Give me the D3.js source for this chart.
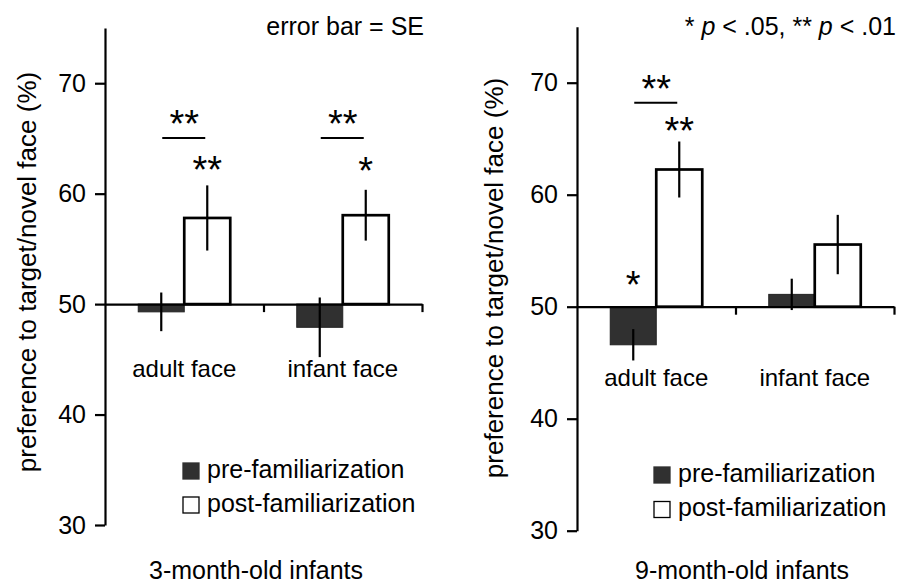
<!DOCTYPE html>
<html>
<head>
<meta charset="utf-8">
<script src="https://cdn.jsdelivr.net/npm/d3@7"></script>
<style>
	body { margin: 0; background: #fff; }
	svg { display: block; font-family: Arial, "Liberation Sans", sans-serif; }
</style>
</head>
<body>
<svg id="chart" width="897" height="585"></svg>
<script>
// values
const categories = ["adult face", "infant face"]
const seriesNames = ["pre-familiarization", "post-familiarization"]
const yTicks = [30, 40, 50, 60, 70]
const panelTitles = ["3-month-old infants", "9-month-old infants"]

const preMean3 = [49.3, 47.9]
const preSe3 = [1.75, 2.7]
const postMean3 = [57.8, 58.05]
const postSe3 = [2.95, 2.3]

const preMean9 = [46.6, 51.1]
const preSe9 = [1.4, 1.4]
const postMean9 = [62.25, 55.55]
const postSe9 = [2.5, 2.65]

// significance marks (y in % units)
const brackets3 = [{ cat: 0, y: 65.05, label: "**" }, { cat: 1, y: 65.05, label: "**" }]
const stars3 = [{ cat: 0, series: 1, y: 62.95, label: "**" }, { cat: 1, series: 1, y: 62.85, label: "*" }]
const brackets9 = [{ cat: 0, y: 68.2, label: "**" }]
const stars9 = [{ cat: 0, series: 1, y: 66.45, label: "**" }, { cat: 0, series: 0, y: 52.7, label: "*" }]

const toRows = (pre, preSe, post, postSe) => categories.map((c, i) => ({
	cat: c,
	bars: [
		{ series: 0, value: pre[i], se: preSe[i] },
		{ series: 1, value: post[i], se: postSe[i] }
	]
}))

const panels = [
	{
		rows: toRows(preMean3, preSe3, postMean3, postSe3),
		brackets: brackets3, stars: stars3, title: panelTitles[0],
		x0: 105, x1: 422, yTop: 28, yBottom: 525,
		labelX: 36, labelY: 272, catY: 377,
		legendX: 183, legendY: 463, legendStep: 34,
		titleX: 256
	},
	{
		rows: toRows(preMean9, preSe9, postMean9, postSe9),
		brackets: brackets9, stars: stars9, title: panelTitles[1],
		x0: 577, x1: 894, yTop: 26.7, yBottom: 530.7,
		labelX: 503, labelY: 278, catY: 386,
		legendX: 654, legendY: 467, legendStep: 34.5,
		titleX: 742
	}
]

const dark = "#303030"
const barWidth = 46
const starSize = 38
const starShift = starSize * 0.57
const svg = d3.select("#chart")

const drawPanel = p => {
	const g = svg.append("g")
	const y = d3.scaleLinear()
		.domain([30, 75])
		.range([p.yBottom, p.yTop])
	const x = d3.scaleBand()
		.domain(categories)
		.range([p.x0, p.x1])
	const xs = d3.scaleBand()
		.domain([0, 1])
		.range([-barWidth, barWidth])
	const barX = (cat, s) => x(cat) + x.bandwidth() / 2 + xs(s)
	const barCx = (cat, s) => barX(cat, s) + xs.bandwidth() / 2

	// bars
	const row = g.selectAll(".row")
		.data(p.rows)
		.enter()
		.append("g")
		.attr("class", "row")
	row.selectAll("rect")
		.data(r => r.bars.map(b => Object.assign({ cat: r.cat }, b)))
		.enter()
		.append("rect")
		.attr("x", b => barX(b.cat, b.series))
		.attr("width", xs.bandwidth())
		.attr("y", b => Math.min(y(b.value), y(50)))
		.attr("height", b => Math.abs(y(b.value) - y(50)))
		.attr("fill", b => b.series === 0 ? dark : "#fff")
		.attr("stroke", b => b.series === 0 ? "#222" : "#000")
		.attr("stroke-width", b => b.series === 0 ? 1 : 2.7)
	row.selectAll("line.err")
		.data(r => r.bars.map(b => Object.assign({ cat: r.cat }, b)))
		.enter()
		.append("line")
		.attr("class", "err")
		.attr("x1", b => barCx(b.cat, b.series))
		.attr("x2", b => barCx(b.cat, b.series))
		.attr("y1", b => y(b.value - b.se))
		.attr("y2", b => y(b.value + b.se))
		.attr("stroke", "#000")
		.attr("stroke-width", 2.2)

	// y axis
	const yAxis = g.append("g")
		.attr("transform", `translate(${p.x0},0)`)
		.call(d3.axisLeft(y)
			.tickValues(yTicks)
			.tickSize(10)
			.tickSizeOuter(0)
			.tickPadding(9))
	yAxis.select(".domain").attr("stroke-width", 2.2)
	yAxis.selectAll(".tick line").attr("stroke-width", 2.2)
	yAxis.selectAll(".tick text")
		.attr("font-size", 25)
		.attr("font-family", "Arial, 'Liberation Sans', sans-serif")
		.attr("fill", "#000")

	// x axis along 50 %
	const xl = d3.scaleLinear()
		.domain([0, categories.length])
		.range([p.x0, p.x1])
	const xAxis = g.append("g")
		.attr("transform", `translate(0,${y(50)})`)
		.call(d3.axisBottom(xl)
			.tickValues(d3.range(1, categories.length + 1))
			.tickFormat("")
			.tickSize(8)
			.tickSizeOuter(0))
	xAxis.select(".domain").attr("stroke-width", 2.2)
	xAxis.selectAll(".tick line").attr("stroke-width", 2.2)

	g.selectAll(".cat")
		.data(categories)
		.enter()
		.append("text")
		.attr("class", "cat")
		.attr("x", c => x(c) + x.bandwidth() / 2)
		.attr("y", p.catY)
		.attr("text-anchor", "middle")
		.attr("font-size", 24)
		.attr("fill", "#000")
		.text(c => c)

	// significance
	const br = g.selectAll(".bracket")
		.data(p.brackets)
		.enter()
		.append("g")
		.attr("class", "bracket")
	br.append("line")
		.attr("x1", d => barCx(categories[d.cat], 0) + 1)
		.attr("x2", d => barCx(categories[d.cat], 1) - 2)
		.attr("y1", d => y(d.y))
		.attr("y2", d => y(d.y))
		.attr("stroke", "#000")
		.attr("stroke-width", 2)
	br.append("text")
		.attr("x", d => x(categories[d.cat]) + x.bandwidth() / 2)
		.attr("y", d => y(d.y) - 23 + starShift)
		.attr("text-anchor", "middle")
		.attr("font-size", starSize)
		.text(d => d.label)
	g.selectAll(".star")
		.data(p.stars)
		.enter()
		.append("text")
		.attr("class", "star")
		.attr("x", d => barCx(categories[d.cat], d.series))
		.attr("y", d => y(d.y) + starShift)
		.attr("text-anchor", "middle")
		.attr("font-size", starSize)
		.text(d => d.label)

	// legend
	const lg = g.selectAll(".legend")
		.data(seriesNames)
		.enter()
		.append("g")
		.attr("class", "legend")
		.attr("transform", (s, i) => `translate(${p.legendX},${p.legendY + i * p.legendStep})`)
	lg.append("rect")
		.attr("width", 16)
		.attr("height", 16)
		.attr("fill", (s, i) => i === 0 ? dark : "#fff")
		.attr("stroke", (s, i) => i === 0 ? dark : "#000")
		.attr("stroke-width", 1.3)
	lg.append("text")
		.attr("x", 24)
		.attr("y", 14.5)
		.attr("font-size", 25)
		.attr("fill", "#000")
		.text(s => s)

	// axis label and panel title
	g.append("text")
		.attr("transform", `translate(${p.labelX},${p.labelY}) rotate(-90)`)
		.attr("text-anchor", "middle")
		.attr("font-size", 26)
		.attr("fill", "#000")
		.text("preference to target/novel face (%)")
	g.append("text")
		.attr("x", p.titleX)
		.attr("y", 579)
		.attr("text-anchor", "middle")
		.attr("font-size", 25)
		.attr("fill", "#000")
		.text(p.title)
}

panels.forEach(drawPanel)

svg.append("text")
	.attr("x", 424)
	.attr("y", 35)
	.attr("text-anchor", "end")
	.attr("font-size", 25)
	.attr("fill", "#000")
	.text("error bar = SE")

const note = svg.append("text")
	.attr("x", 896)
	.attr("y", 35)
	.attr("text-anchor", "end")
	.attr("font-size", 25)
	.attr("fill", "#000")
note.append("tspan").text("* ")
note.append("tspan").attr("font-style", "italic").text("p")
note.append("tspan").text(" < .05, ** ")
note.append("tspan").attr("font-style", "italic").text("p")
note.append("tspan").text(" < .01")
</script>
</body>
</html>
